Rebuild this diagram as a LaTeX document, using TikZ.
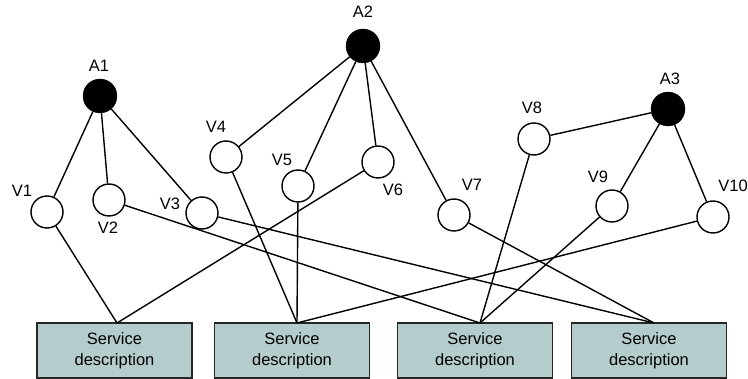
\documentclass[tikz,border=0pt]{standalone}
\usepackage{fontspec}
\setmainfont{Liberation Sans}
\definecolor{boxfill}{RGB}{180,204,204}
\begin{document}
\begin{tikzpicture}[x=1pt,y=-1pt,
  agent/.style={circle,fill=black,draw=black,minimum size=34pt,inner sep=0pt},
  vnode/.style={circle,fill=white,draw=black,line width=1.4pt,minimum size=32pt,inner sep=0pt},
  lbl/.style={font=\fontsize{16.5}{18}\selectfont,inner sep=0pt},
  sbox/.style={draw=black!85,fill=boxfill,line width=1.2pt,minimum width=155pt,minimum height=55pt,inner sep=0pt,align=center,font=\fontsize{16.5}{21}\selectfont},
  conn/.style={line width=1.4pt}]
\useasboundingbox (0,0) rectangle (748,379);
% service boxes
\node[sbox] (b1) at (114.5,350.5) {Service\\description};
\node[sbox] (b2) at (292,350.5) {Service\\description};
\node[sbox] (b3) at (475,350.5) {Service\\description};
\node[sbox] (b4) at (649,350.5) {Service\\description};
\coordinate (p1) at (117,323);
\coordinate (p2) at (297,323);
\coordinate (p3) at (480,323);
\coordinate (p4) at (654,323);
% nodes
\node[agent] (a1) at (100,96) {};
\node[agent] (a2) at (363,46) {};
\node[agent] (a3) at (668,109) {};
\node[vnode] (v1) at (47,212) {};
\node[vnode] (v2) at (109,200) {};
\node[vnode] (v3) at (202,213) {};
\node[vnode] (v4) at (226,157) {};
\node[vnode] (v5) at (298,186) {};
\node[vnode] (v6) at (378,162) {};
\node[vnode] (v7) at (454,215) {};
\node[vnode] (v8) at (534,139) {};
\node[vnode] (v9) at (612,206) {};
\node[vnode] (v10) at (713,217) {};
% labels
\node[lbl] (la1) at (99,66) {A1};
\node[lbl] (la2) at (363,12) {A2};
\node[lbl] (la3) at (670,79) {A3};
\node[lbl] (lv1) at (22,191) {V1};
\node[lbl] (lv2) at (108,228) {V2};
\node[lbl] (lv3) at (170,204) {V3};
\node[lbl] (lv4) at (216,127) {V4};
\node[lbl] (lv5) at (282,160) {V5};
\node[lbl] (lv6) at (393,190) {V6};
\node[lbl] (lv7) at (472,185) {V7};
\node[lbl] (lv8) at (532,108) {V8};
\node[lbl] (lv9) at (598,177) {V9};
\node[lbl] (lv10) at (733,186) {V10};
% connectors
\draw[conn] (a1) -- (v1);
\draw[conn] (a1) -- (v2);
\draw[conn] (a1) -- (v3);
\draw[conn] (a2) -- (v4);
\draw[conn] (a2) -- (v5);
\draw[conn] (a2) -- (v6);
\draw[conn] (a2) -- (v7);
\draw[conn] (a3) -- (v8);
\draw[conn] (a3) -- (v9);
\draw[conn] (a3) -- (v10);
\draw[conn] (v1) -- (p1);
\draw[conn] (v6) -- (p1);
\draw[conn] (v4) -- (p2);
\draw[conn] (v5) -- (p2);
\draw[conn] (v10) -- (p2);
\draw[conn] (v2) -- (p3);
\draw[conn] (v8) -- (p3);
\draw[conn] (v9) -- (p3);
\draw[conn] (v3) -- (p4);
\draw[conn] (v7) -- (p4);
\end{tikzpicture}
\end{document}
